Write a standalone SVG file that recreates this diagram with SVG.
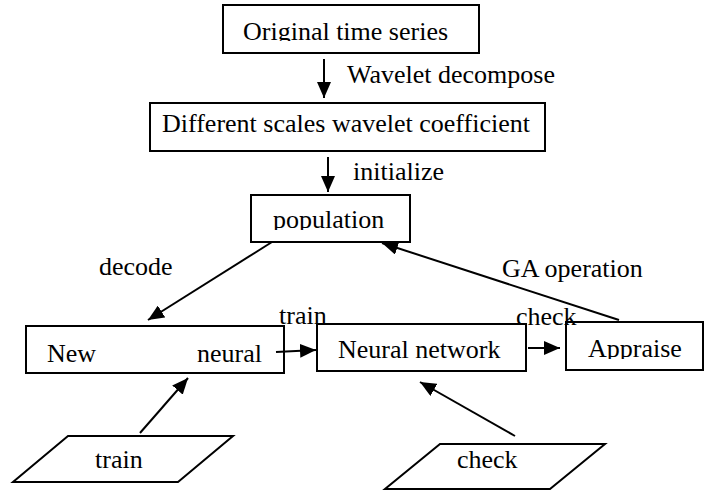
<svg xmlns="http://www.w3.org/2000/svg" width="712" height="491" viewBox="0 0 712 491">
  <style>
    .box { fill: #fff; stroke: #000; stroke-width: 2; }
    .txt { font-family: "Liberation Serif", "Times New Roman", serif; font-size: 26px; fill: #000; }
    .edge { stroke: #000; stroke-width: 2; fill: none; marker-end: url(#arrow); }
  </style>
  <defs>
    <marker id="arrow" markerUnits="userSpaceOnUse" markerWidth="16" markerHeight="14" viewBox="0 0 16 14" refX="16" refY="7" orient="auto">
      <path d="M0,0 L16,7 L0,14 Z" fill="#000"/>
    </marker>
    <clipPath id="clipOrig"><rect x="224" y="6" width="254" height="35"/></clipPath>
    <clipPath id="clipPop"><rect x="252" y="196" width="157" height="34"/></clipPath>
    <clipPath id="clipApp"><rect x="567" y="323" width="135" height="36"/></clipPath>
  </defs>
  <rect width="712" height="491" fill="#fff"/>

  <g id="original">
    <rect class="box" x="223" y="5" width="256" height="48"/>
    <text class="txt" x="243" y="40" clip-path="url(#clipOrig)">Original time series</text>
  </g>

  <g id="coefficients">
    <rect class="box" x="150" y="103" width="395" height="48"/>
    <text class="txt" x="162" y="132">Different scales wavelet coefficient</text>
  </g>

  <g id="population">
    <rect class="box" x="251" y="195" width="159" height="47"/>
    <text class="txt" x="273" y="228" clip-path="url(#clipPop)">population</text>
  </g>

  <g id="new-neural">
    <rect class="box" x="26" y="326" width="258" height="47"/>
    <text class="txt" x="47" y="362">New</text>
    <text class="txt" x="197" y="362">neural</text>
  </g>

  <g id="neural-network">
    <rect class="box" x="317" y="324" width="209" height="47"/>
    <text class="txt" x="338" y="358">Neural network</text>
  </g>

  <g id="appraise">
    <rect class="box" x="566" y="322" width="137" height="48"/>
    <text class="txt" x="588" y="357" clip-path="url(#clipApp)">Appraise</text>
  </g>

  <g id="train-data">
    <polygon class="box" points="68,436 233,436 178,482 13,482"/>
    <text class="txt" x="95" y="468">train</text>
  </g>

  <g id="check-data">
    <polygon class="box" points="440,444 605,444 550,489 385,489"/>
    <text class="txt" x="457" y="468">check</text>
  </g>

  <g id="connectors">
    <line class="edge" x1="324" y1="59" x2="324" y2="98"/>
    <line class="edge" x1="328" y1="157" x2="328" y2="192"/>
    <line class="edge" x1="272" y1="242" x2="148" y2="320"/>
    <line class="edge" x1="140" y1="433" x2="188" y2="378"/>
    <line class="edge" x1="276" y1="352" x2="316" y2="350"/>
    <line class="edge" x1="528" y1="348" x2="560" y2="348"/>
    <line class="edge" x1="619" y1="320" x2="382" y2="243"/>
    <line class="edge" x1="515" y1="436" x2="420" y2="382"/>
    <text class="txt" x="347" y="83">Wavelet decompose</text>
    <text class="txt" x="353" y="180">initialize</text>
    <text class="txt" x="99" y="275">decode</text>
    <text class="txt" x="502" y="277">GA operation</text>
    <text class="txt" x="279" y="324">train</text>
    <text class="txt" x="516" y="325">check</text>
  </g>
</svg>
